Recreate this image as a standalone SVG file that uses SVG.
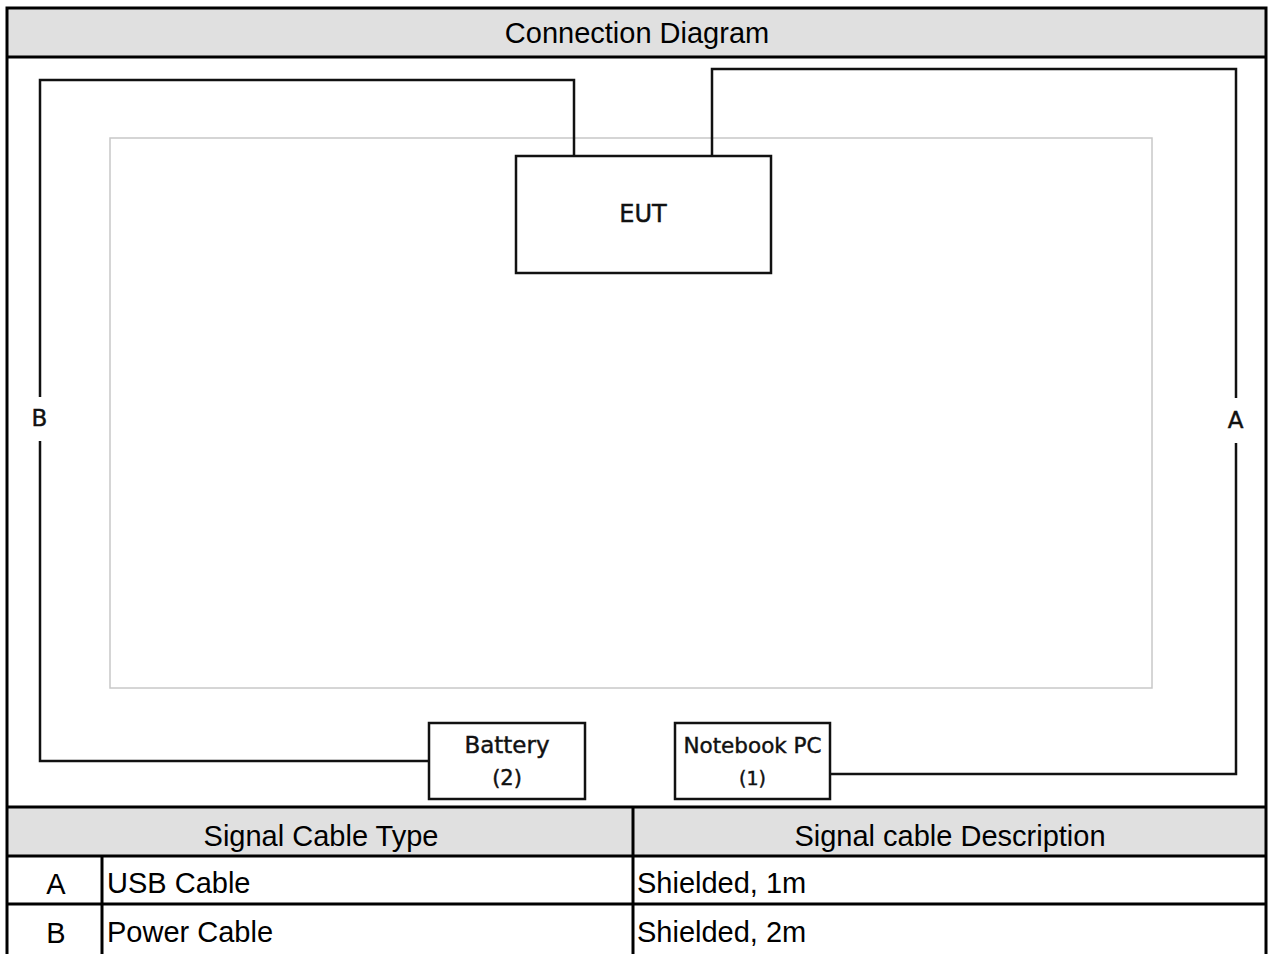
<svg xmlns="http://www.w3.org/2000/svg" width="1269" height="954" viewBox="0 0 1269 954">
<style>
.grid{stroke:#000;stroke-width:3;fill:none}
.hdr{fill:#e0e0e0;stroke:none}
.tt{font-family:"Liberation Sans",Arial,sans-serif;font-size:29px;fill:#000}
.box{fill:#fff;stroke:#111;stroke-width:2.5}
.lbl{font-family:"DejaVu Sans",sans-serif;fill:#111;stroke:#111;stroke-width:0.45}
.cable{fill:none;stroke:#111;stroke-width:2.5;stroke-linejoin:miter}
</style>
<rect width="1269" height="954" fill="#fff"/>
<g id="table">
<rect class="hdr" x="7" y="8" width="1259" height="49"/>
<rect class="hdr" x="7" y="807" width="1259" height="49"/>
<rect class="grid" x="7" y="8" width="1259" height="960"/>
<line class="grid" x1="7" y1="57" x2="1266" y2="57"/>
<line class="grid" x1="7" y1="807" x2="1266" y2="807"/>
<line class="grid" x1="7" y1="856" x2="1266" y2="856"/>
<line class="grid" x1="7" y1="904" x2="1266" y2="904"/>
<line class="grid" x1="633" y1="807" x2="633" y2="954"/>
<line class="grid" x1="102" y1="856" x2="102" y2="954"/>
<text class="tt" x="637" y="43" text-anchor="middle">Connection Diagram</text>
<text class="tt" x="321" y="846" text-anchor="middle">Signal Cable Type</text>
<text class="tt" x="950" y="846" text-anchor="middle">Signal cable Description</text>
<text class="tt" x="56" y="894" text-anchor="middle">A</text>
<text class="tt" x="107" y="893">USB Cable</text>
<text class="tt" x="637" y="893">Shielded, 1m</text>
<text class="tt" x="56" y="943" text-anchor="middle">B</text>
<text class="tt" x="107" y="942">Power Cable</text>
<text class="tt" x="637" y="942">Shielded, 2m</text>
</g>
<g id="table-area">
<rect x="110" y="138" width="1042" height="550" fill="none" stroke="#c8c8c8" stroke-width="1.5"/>
</g>
<g id="connectors">
<polyline class="cable" points="574,156 574,80 40,80 40,397"/>
<polyline class="cable" points="40,441 40,761 430,761"/>
<polyline class="cable" points="712,156 712,69 1236,69 1236,398"/>
<polyline class="cable" points="1236,443 1236,774 830,774"/>
<text class="lbl" x="39.5" y="426" font-size="23" text-anchor="middle">B</text>
<text class="lbl" x="1235.5" y="428" font-size="23" text-anchor="middle">A</text>
</g>
<g id="eut">
<rect class="box" x="516" y="156" width="255" height="117"/>
<text class="lbl" x="643" y="222" font-size="24" text-anchor="middle">EUT</text>
</g>
<g id="battery">
<rect class="box" x="429" y="723" width="156" height="76"/>
<text class="lbl" x="507" y="753" font-size="23" text-anchor="middle">Battery</text>
<text class="lbl" x="507" y="785" font-size="21" text-anchor="middle">(2)</text>
</g>
<g id="notebook">
<rect class="box" x="675" y="723" width="155" height="76"/>
<text class="lbl" x="752.5" y="753" font-size="21.5" text-anchor="middle">Notebook PC</text>
<text class="lbl" x="752.5" y="785" font-size="19" text-anchor="middle">(1)</text>
</g>
</svg>
